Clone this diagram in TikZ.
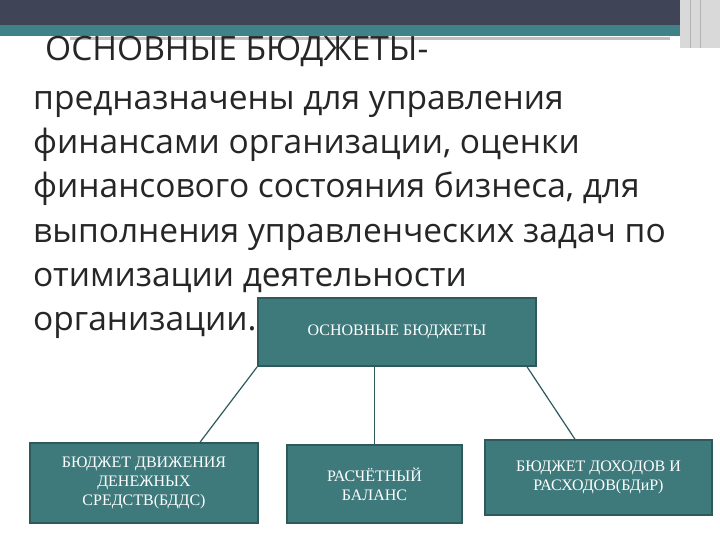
\documentclass[tikz,border=0pt]{standalone}
\usepackage{fontspec}
\setmainfont{Liberation Serif}
\newfontfamily\bodyfont{Open Sans}
\definecolor{boxfill}{HTML}{3E7A7C}
\definecolor{boxline}{HTML}{2E5A5C}
\definecolor{topbar}{HTML}{3F4456}
\definecolor{tealband}{HTML}{3F8288}
\definecolor{bodytext}{HTML}{262626}
\tikzset{
  bbox/.style={draw=boxline, line width=1.5pt, fill=boxfill, text=white, align=center, font=\fontsize{16}{19}\selectfont, inner sep=0pt},
  conn/.style={draw=boxline, line width=1.2pt},
  bodyline/.style={anchor=base west, inner sep=0pt, text=bodytext, font=\bodyfont\fontsize{33.5}{38}\selectfont}
}
\begin{document}
\begin{tikzpicture}[x=1pt,y=-1pt]
\useasboundingbox (0,0) rectangle (720,540);
\fill[white] (0,0) rectangle (720,540);
\fill[topbar] (0,0) rectangle (680,25);
\fill[tealband] (0,25) rectangle (680,36);
\fill[gray!50] (70,37) rectangle (670,40);
\fill[gray!30] (680,0) rectangle (720,48);
\draw[gray!60, line width=1pt] (690,0) -- (690,48) (700,0) -- (700,48);
\node[bodyline] (title) at (45,61) {ОСНОВНЫЕ БЮДЖЕТЫ-};
\node[bodyline] (l1) at (33,110) {предназначены для управления};
\node[bodyline] (l2) at (33,154) {финансами организации, оценки};
\node[bodyline] (l3) at (33,198) {финансового состояния бизнеса, для};
\node[bodyline] (l4) at (33,242) {выполнения управленческих задач по};
\node[bodyline] (l5) at (33,286) {отимизации деятельности};
\node[bodyline] (l6) at (33,330) {организации.};
\node[bbox, minimum width=278, minimum height=68] (main) at (397,332) {ОСНОВНЫЕ БЮДЖЕТЫ};
\node[bbox, minimum width=228, minimum height=80] (a) at (144,483) {БЮДЖЕТ ДВИЖЕНИЯ\\ДЕНЕЖНЫХ\\СРЕДСТВ(БДДС)};
\node[bbox, minimum width=175, minimum height=78] (b) at (374.5,484) {РАСЧЁТНЫЙ\\БАЛАНС};
\node[bbox, minimum width=227, minimum height=75] (c) at (598.5,477.5) {БЮДЖЕТ ДОХОДОВ И\\РАСХОДОВ(БДиР)};
\draw[conn] (main.south west) -- (a.north -| 200,0);
\draw[conn] (main.south -| b.north) -- (b.north);
\draw[conn] (main.south -| 527,0) -- (c.north -| 575,0);
\end{tikzpicture}
\end{document}
